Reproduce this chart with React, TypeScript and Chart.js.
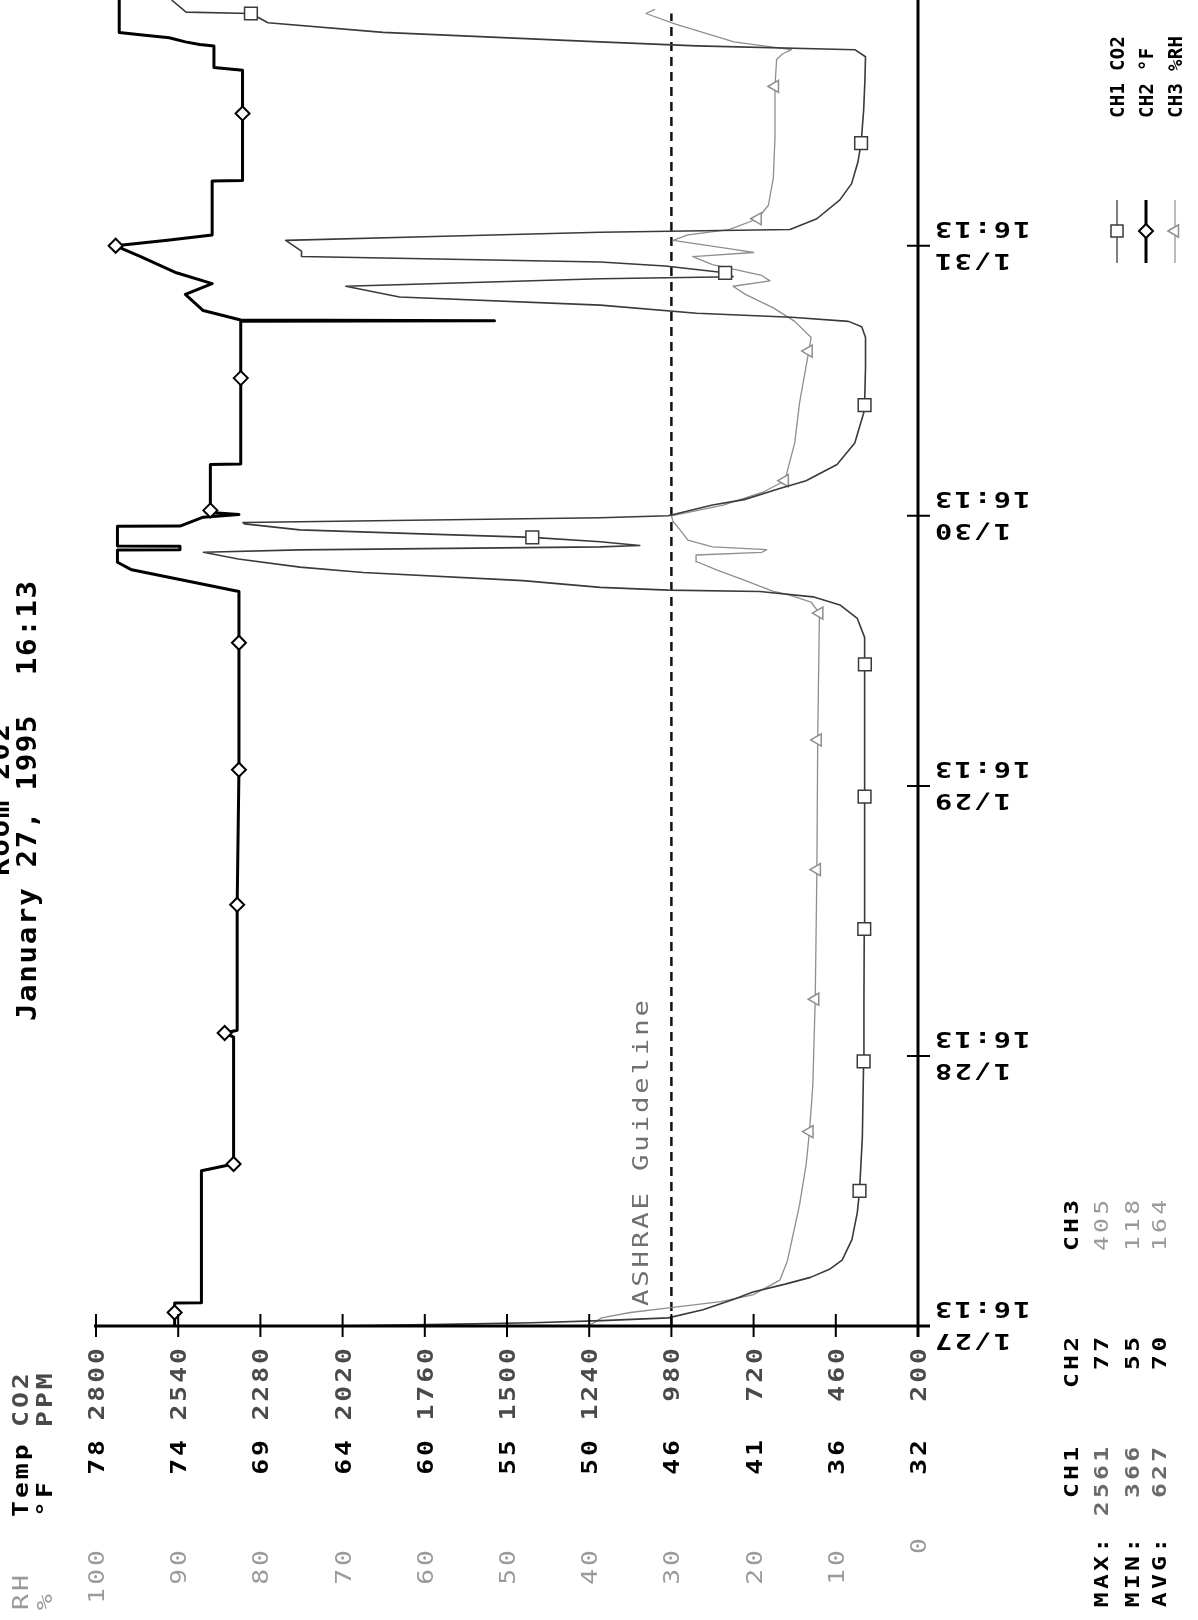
import React, { useEffect, useRef } from 'react';
import { Chart, registerables } from 'chart.js';

Chart.register(...registerables);

const W = 1198;
const H = 1620;

// ---------------- data ----------------
const co2Ticks = [2800, 2540, 2280, 2020, 1760, 1500, 1240, 980, 720, 460, 200];
const tempTickLabels = ['78', '74', '69', '64', '60', '55', '50', '46', '41', '36', '32'];
const rhTickLabels = ['100', '90', '80', '70', '60', '50', '40', '30', '20', '10', '0'];
const dayValues = [0, 1, 2, 3, 4];
const dayLabels = ['1/27', '1/28', '1/29', '1/30', '1/31'];
const tickTime = '16:13';
const titleLine1 = 'Room 202';
const titleLine2 = 'January 27, 1995  16:13';
const guideline = 980;
const guideLabel = 'ASHRAE Guideline';
const guideTop = 4.86;
const timeMax = 4.91;

// days since 1/27 16:13
const co2Time = [
  0.0, 0.006, 0.012, 0.02, 0.03, 0.06, 0.1, 0.126, 0.155, 0.18, 0.21, 0.244, 0.32, 0.42, 0.5, 0.7,
  0.98, 1.2, 1.47, 1.7, 1.96, 2.2, 2.45, 2.55, 2.62, 2.67, 2.7, 2.72, 2.725, 2.735, 2.76, 2.79,
  2.81, 2.84, 2.865, 2.874, 2.885, 2.89, 2.904, 2.92, 2.933, 2.948, 2.97, 2.975, 2.993, 3.0, 3.04,
  3.06, 3.1, 3.13, 3.19, 3.27, 3.38, 3.41, 3.55, 3.66, 3.7, 3.72, 3.735, 3.75, 3.78, 3.81, 3.85,
  3.878, 3.885, 3.9, 3.925, 3.94, 3.96, 3.98, 4.02, 4.035, 4.05, 4.06, 4.1, 4.17, 4.23, 4.31, 4.38,
  4.5, 4.61, 4.7, 4.726, 4.74, 4.755, 4.79, 4.826, 4.86, 4.865, 4.91,
];
const co2Value = [
  2050, 1700, 1420, 1200, 990, 880, 780, 722, 620, 540, 480, 440, 409, 392, 385, 376,
  372, 371, 370, 369, 369, 368, 368, 370, 392, 447, 532, 700, 990, 1205, 1450, 1955,
  2155, 2350, 2460, 2155, 1205, 1080, 1205, 1420, 1770, 2155, 2330, 2335, 1205, 990, 850,
  750, 640, 554, 456, 400, 372, 369, 366, 366, 378, 420, 600, 900, 1205, 1840, 2010,
  1205, 785, 810, 1000, 1205, 2150, 2150, 2200, 1700, 1205, 605, 520, 447, 410, 390, 380,
  372, 368, 366, 400, 900, 1206, 1892, 2256, 2310, 2515, 2561,
];
const co2MarkerTime = [0.5, 0.98, 1.47, 1.96, 2.45, 2.92, 3.41, 3.9, 4.38, 4.86];

const tempTime = [
  0.0, 0.05, 0.085, 0.086, 0.575, 0.6, 1.07, 1.085, 1.095, 1.56, 2.06, 2.53, 2.72, 2.8, 2.828,
  2.873, 2.874, 2.887, 2.888, 2.961, 2.962, 2.995, 3.005, 3.012, 3.02, 3.19, 3.192, 3.51, 3.72,
  3.722, 3.725, 3.76, 3.82, 3.86, 3.9, 3.96, 4.0, 4.02, 4.04, 4.24, 4.242, 4.49, 4.65, 4.66,
  4.74, 4.745, 4.755, 4.77, 4.78, 4.79, 4.91,
];
const tempValue = [
  73.6, 73.6, 73.6, 72.1, 72.1, 70.3, 70.3, 70.8, 70.1, 70.1, 70.0, 70.0, 70.0, 76.0, 76.8,
  76.8, 73.3, 73.3, 76.8, 76.8, 73.3, 72.0, 70.0, 71.6, 71.6, 71.6, 69.9, 69.9, 69.9,
  55.7, 69.9, 72.0, 73.0, 71.5, 73.5, 75.5, 76.9, 74.0, 71.5, 71.5, 69.8, 69.8, 69.8, 71.4,
  71.4, 72.2, 73.0, 73.9, 75.4, 76.7, 76.7,
];
const tempMarkerTime = [0.05, 0.6, 1.085, 1.56, 2.06, 2.53, 3.02, 3.51, 4.0, 4.49];

const rhTime = [
  0.0, 0.01, 0.03, 0.05, 0.067, 0.09, 0.115, 0.17, 0.24, 0.31, 0.45, 0.6, 0.72, 0.89, 1.21, 1.69,
  2.17, 2.62, 2.64, 2.68, 2.71, 2.72, 2.76, 2.8, 2.83, 2.855, 2.865, 2.875, 2.885, 2.91, 2.95,
  2.98, 3.0, 3.04, 3.09, 3.13, 3.27, 3.42, 3.59, 3.61, 3.66, 3.72, 3.77, 3.82, 3.85, 3.87, 3.89,
  3.93, 3.96, 3.975, 3.985, 4.02, 4.04, 4.06, 4.1, 4.15, 4.25, 4.4, 4.59, 4.69, 4.71, 4.726,
  4.755, 4.82, 4.86, 4.875,
];
const rhValue = [
  40.5, 39.5, 38.5, 35, 30.3, 24, 20.1, 16.8, 15.9, 15.4, 14.4, 13.6, 13.2, 12.8, 12.5, 12.3,
  12.2, 12.0, 12.0, 13, 16, 17.6, 21, 24.5, 26.9, 27, 19, 18.4, 25, 28, 29,
  29.8, 30, 23.7, 18.7, 16.2, 15.0, 14.4, 13.4, 13.3, 13.0, 15, 17.6, 21, 22.5, 18, 19,
  25, 27.4, 20, 22, 29.8, 28, 23, 19.5, 18.2, 17.6, 17.4, 17.4, 17.2, 16.5, 15.4,
  22.4, 29.4, 33.1, 32,
];
const rhMarkerTime = [0.72, 1.21, 1.69, 2.17, 2.64, 3.13, 3.61, 4.1, 4.59];

const legendLabels = ['CH1 CO2', 'CH2 \u00b0F', 'CH3 %RH'];
const statHeaders = ['CH1', 'CH2', 'CH3'];
const statRowLabels = ['MAX:', 'MIN:', 'AVG:'];
const statCH1 = ['2561', '366', '627'];
const statCH2 = ['77', '55', '70'];
const statCH3 = ['405', '118', '164'];

// ---------------- helpers ----------------
const FONT = '"DejaVu Sans Mono", "Liberation Mono", monospace';
const UP = -Math.PI / 2;
const FLIP = Math.PI;

type TO = {
  rot: number; size: number; weight?: string; sx?: number; ls?: number;
  align?: 'left' | 'right' | 'center'; color?: string;
};

function txt(ctx: CanvasRenderingContext2D, s: string, x: number, y: number, o: TO) {
  ctx.save();
  ctx.translate(x, y);
  ctx.rotate(o.rot);
  ctx.scale(o.sx ?? 1, 1);
  ctx.font = `${o.weight ?? 'bold'} ${o.size}px ${FONT}`;
  const ls = o.ls ?? 0;
  (ctx as any).letterSpacing = `${ls}px`;
  ctx.fillStyle = o.color ?? '#000';
  ctx.textBaseline = 'alphabetic';
  ctx.textAlign = 'left';
  const w = ctx.measureText(s).width - ls;
  const start = o.align === 'right' ? -w : o.align === 'center' ? -w / 2 : 0;
  ctx.fillText(s, start, 0);
  ctx.restore();
}

function marker(ctx: CanvasRenderingContext2D, kind: string, x: number, y: number, r: number, color: string, lw: number) {
  ctx.save();
  ctx.strokeStyle = color;
  ctx.lineWidth = lw;
  ctx.fillStyle = '#fff';
  ctx.beginPath();
  if (kind === 'rect') {
    ctx.rect(x - r, y - r, 2 * r, 2 * r);
  } else if (kind === 'diamond') {
    ctx.moveTo(x, y - r); ctx.lineTo(x + r, y); ctx.lineTo(x, y + r); ctx.lineTo(x - r, y); ctx.closePath();
  } else {
    ctx.moveTo(x - r, y); ctx.lineTo(x + r * 0.5, y - r * 0.87); ctx.lineTo(x + r * 0.5, y + r * 0.87); ctx.closePath();
  }
  ctx.fill();
  ctx.stroke();
  ctx.restore();
}

function nearestIndex(ts: number[], t: number) {
  let b = 0;
  for (let i = 0; i < ts.length; i++) if (Math.abs(ts[i] - t) < Math.abs(ts[b] - t)) b = i;
  return b;
}

const pts = (ts: number[], vs: number[]) => ts.map((t, i) => ({ x: vs[i], y: t }));

const AX = { size: 22, sx: 1.2, ls: 2.5 };
const TM = { size: 22, sx: 1.3, ls: 1.8 };
const ST = { size: 19, sx: 1.3, ls: 2.5 };
const LG = { size: 19, sx: 1.0, ls: 0.3 };
const CO2C = '#3a3a3a';
const RHC = '#8e8e8e';

const decor = {
  id: 'decor',
  beforeDraw(chart: any) {
    const ctx = chart.ctx as CanvasRenderingContext2D;
    ctx.save();
    ctx.fillStyle = '#fff';
    ctx.fillRect(0, 0, chart.width, chart.height);
    ctx.restore();
  },
  beforeDatasetsDraw(chart: any) {
    const ctx = chart.ctx as CanvasRenderingContext2D;
    const xs = chart.scales.x;
    const ys = chart.scales.y;
    const gx = xs.getPixelForValue(guideline);
    ctx.save();
    ctx.strokeStyle = '#111';
    ctx.lineWidth = 2.5;
    ctx.setLineDash([9, 6]);
    ctx.beginPath();
    ctx.moveTo(gx, ys.getPixelForValue(0));
    ctx.lineTo(gx, ys.getPixelForValue(guideTop));
    ctx.stroke();
    ctx.restore();
    txt(ctx, guideLabel, gx - 23, ys.getPixelForValue(0) - 20, {
      rot: UP, size: 21, weight: 'normal', sx: 1.3, ls: 2.2, color: '#707070', align: 'left',
    });
  },
  afterDatasetsDraw(chart: any) {
    const ctx = chart.ctx as CanvasRenderingContext2D;
    const xs = chart.scales.x;
    const ys = chart.scales.y;
    const y0 = ys.getPixelForValue(0);
    const xL = xs.getPixelForValue(2800);
    const xR = xs.getPixelForValue(200);

    // axes
    ctx.save();
    ctx.strokeStyle = '#000';
    ctx.lineWidth = 3;
    ctx.beginPath();
    ctx.moveTo(xL - 2, y0);
    ctx.lineTo(xR + 12, y0);
    ctx.moveTo(xR, 0);
    ctx.lineTo(xR, y0 + 11);
    ctx.stroke();
    ctx.lineWidth = 2;
    ctx.beginPath();
    co2Ticks.forEach((v) => {
      const x = xs.getPixelForValue(v);
      ctx.moveTo(x, y0 - 12);
      ctx.lineTo(x, y0 + 11);
    });
    dayValues.forEach((d) => {
      const y = ys.getPixelForValue(d);
      ctx.moveTo(xR - 11, y);
      ctx.lineTo(xR + 12, y);
    });
    ctx.stroke();
    ctx.restore();

    // value tick labels
    co2Ticks.forEach((v, i) => {
      const x = xs.getPixelForValue(v) + 8;
      txt(ctx, String(v), x, y0 + 22, { rot: UP, ...AX, align: 'right', color: '#4a4a4a' });
      txt(ctx, tempTickLabels[i], x, y0 + 114, { rot: UP, ...AX, align: 'right' });
      const last = i === co2Ticks.length - 1;
      txt(ctx, rhTickLabels[i], x, y0 + (last ? 212 : 224), {
        rot: UP, ...AX, weight: 'normal', align: 'right', color: '#9a9a9a',
      });
    });

    // column headers
    txt(ctx, 'Temp', 28, 1517, { rot: UP, ...AX, align: 'left' });
    txt(ctx, 'CO2', 28, 1427, { rot: UP, ...AX, align: 'left', color: '#4a4a4a' });
    txt(ctx, 'RH', 28, 1610, { rot: UP, ...AX, weight: 'normal', align: 'left', color: '#9a9a9a' });
    txt(ctx, '\u00b0F', 52, 1517, { rot: UP, ...AX, align: 'left' });
    txt(ctx, 'PPM', 52, 1427, { rot: UP, ...AX, align: 'left', color: '#4a4a4a' });
    txt(ctx, '%', 52, 1610, { rot: UP, ...AX, weight: 'normal', align: 'left', color: '#9a9a9a' });

    // time labels (upside down)
    dayValues.forEach((d, i) => {
      const y = ys.getPixelForValue(d);
      txt(ctx, tickTime, xR + 17, y - 24, { rot: FLIP, ...TM, align: 'right' });
      txt(ctx, dayLabels[i], xR + 17, y + 8, { rot: FLIP, ...TM, align: 'right' });
    });

    // title
    txt(ctx, titleLine2, 36, 801, { rot: UP, size: 26, sx: 1.12, ls: 1.5, align: 'center' });
    txt(ctx, titleLine1, 9, 800, { rot: UP, size: 26, sx: 1.12, ls: 1.5, align: 'center' });

    // stats table
    const rowX = [1078, 1108, 1139, 1166];
    const colEnd = [1447, 1337, 1200];
    statHeaders.forEach((h, j) => txt(ctx, h, rowX[0], colEnd[j], { rot: UP, ...ST, align: 'right' }));
    statRowLabels.forEach((lab, r) => {
      const x = rowX[r + 1];
      txt(ctx, lab, x, 1538, { rot: UP, ...ST, align: 'right' });
      txt(ctx, statCH1[r], x, colEnd[0], { rot: UP, ...ST, align: 'right', color: '#6a6a6a' });
      txt(ctx, statCH2[r], x, colEnd[1], { rot: UP, ...ST, align: 'right' });
      txt(ctx, statCH3[r], x, colEnd[2], { rot: UP, ...ST, weight: 'normal', align: 'right', color: '#9a9a9a' });
    });

    // legend
    const lgX = [1124, 1153, 1182];
    legendLabels.forEach((l, i) => txt(ctx, l, lgX[i], 118, { rot: UP, ...LG, align: 'left' }));
    const symX = [1117, 1146, 1175];
    const symStyle = [
      { c: CO2C, w: 1.3, k: 'rect', r: 6 },
      { c: '#000', w: 3, k: 'diamond', r: 7 },
      { c: RHC, w: 1.2, k: 'tri', r: 7 },
    ];
    symStyle.forEach((s, i) => {
      ctx.save();
      ctx.strokeStyle = s.c;
      ctx.lineWidth = s.w;
      ctx.beginPath();
      ctx.moveTo(symX[i], 200);
      ctx.lineTo(symX[i], 263);
      ctx.stroke();
      ctx.restore();
      marker(ctx, s.k, symX[i], 231, s.r, s.c, i === 1 ? 2 : 1.5);
    });
  },
};

export default function App() {
  const ref = useRef<HTMLCanvasElement>(null);
  useEffect(() => {
    document.body.style.margin = '0';
    document.body.style.overflow = 'hidden';
    const canvas = ref.current!;
    const co2Marks = new Set(co2MarkerTime.map((t) => nearestIndex(co2Time, t)));
    const tempMarks = new Set(tempMarkerTime.map((t) => nearestIndex(tempTime, t)));
    const rhMarks = new Set(rhMarkerTime.map((t) => nearestIndex(rhTime, t)));
    const chart = new Chart(canvas, {
      type: 'line',
      data: {
        datasets: [
          {
            label: 'CH2 \u00b0F',
            data: pts(tempTime, tempValue),
            xAxisID: 'xt', yAxisID: 'y',
            borderColor: '#000', borderWidth: 3, borderJoinStyle: 'round',
            pointStyle: 'rectRot', pointBorderColor: '#000', pointBackgroundColor: '#fff', pointBorderWidth: 2,
            pointRadius: (c: any) => (tempMarks.has(c.dataIndex) ? 7 : 0),
            tension: 0, fill: false, clip: 10, order: 1,
          } as any,
          {
            label: 'CH1 CO2',
            data: pts(co2Time, co2Value),
            xAxisID: 'x', yAxisID: 'y',
            borderColor: CO2C, borderWidth: 1.6, borderJoinStyle: 'round',
            pointStyle: 'rect', pointBorderColor: CO2C, pointBackgroundColor: '#fff', pointBorderWidth: 1.5,
            pointRadius: (c: any) => (co2Marks.has(c.dataIndex) ? 9 : 0),
            tension: 0, fill: false, clip: 10, order: 2,
          } as any,
          {
            label: 'CH3 %RH',
            data: pts(rhTime, rhValue),
            xAxisID: 'xr', yAxisID: 'y',
            borderColor: RHC, borderWidth: 1.3, borderJoinStyle: 'round',
            pointStyle: 'triangle', pointRotation: -90, pointBorderColor: RHC, pointBackgroundColor: '#fff',
            pointBorderWidth: 1.5,
            pointRadius: (c: any) => (rhMarks.has(c.dataIndex) ? 7 : 0),
            tension: 0, fill: false, clip: 10, order: 3,
          } as any,
        ],
      },
      options: {
        responsive: false,
        animation: false,
        indexAxis: 'y',
        events: [],
        layout: { padding: { left: 96, right: W - 918, top: 0, bottom: H - 1326 } },
        plugins: { legend: { display: false }, tooltip: { enabled: false }, title: { display: false } },
        scales: {
          x: { type: 'linear', axis: 'x', min: 200, max: 2800, reverse: true, display: false },
          xt: { type: 'linear', axis: 'x', min: 32, max: 78, reverse: true, display: false },
          xr: { type: 'linear', axis: 'x', min: 0, max: 100, reverse: true, display: false },
          y: { type: 'linear', axis: 'y', min: 0, max: timeMax, display: false },
        },
      } as any,
      plugins: [decor as any],
    });
    return () => chart.destroy();
  }, []);
  return <canvas ref={ref} width={W} height={H} style={{ display: 'block', width: W, height: H }} />;
}
